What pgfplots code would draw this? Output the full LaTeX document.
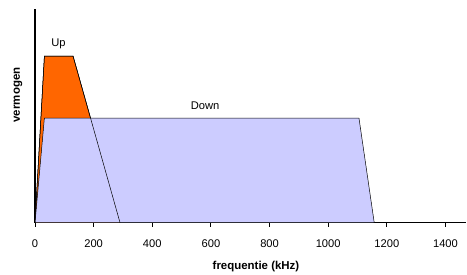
\documentclass[border=0pt]{standalone}
\usepackage{fontspec}
\setmainfont{Liberation Sans}
\usepackage{pgfplots}
\pgfplotsset{compat=1.18}
\definecolor{upor}{HTML}{FF6600}
\definecolor{downbl}{HTML}{CCCCFF}
\begin{document}
\begin{tikzpicture}
\path[use as bounding box] (0,0) rectangle (467bp,275bp);
\begin{axis}[
  anchor=south west, at={(35bp,52.3bp)},
  scale only axis, width=431bp, height=213.4bp,
  xmin=0, xmax=1470, ymin=0, ymax=100,
  axis x line=bottom, axis y line=left,
  axis line style={line width=1.6pt, -},
  xtick={0,200,...,1400}, ytick=\empty,
  tick align=outside, major tick length=4bp,
  x tick style={line width=0.9pt, black},
  tick label style={font=\fontsize{11.2}{13}\selectfont},
  xticklabel style={yshift=-9bp},
  /pgf/number format/assume math mode=true,
  /pgf/number format/1000 sep={},
  clip=false,
]
\addplot[fill=upor, draw=black, line width=0.5pt] coordinates {(0,0) (32,78) (130,78) (290,0)};
\addplot[fill=downbl, draw=black, line width=0.5pt] coordinates {(0,0) (32,49) (1105,49) (1157,0)} -- cycle;
\addplot[draw=black, line width=0.5pt] coordinates {(0,0) (32,78) (130,78) (290,0)};
\node[font=\fontsize{11.2}{13}\selectfont] at (axis cs:80,83.7) {Up};
\node[font=\fontsize{11.2}{13}\selectfont] at (axis cs:580,54.7) {Down};
\end{axis}
\node[font=\bfseries\fontsize{11.5}{13}\selectfont] at (256bp,8bp) {frequentie (kHz)};
\node[rotate=90, font=\bfseries\fontsize{11.5}{13}\selectfont] at (18bp,180bp) {vermogen};
\end{tikzpicture}
\end{document}
